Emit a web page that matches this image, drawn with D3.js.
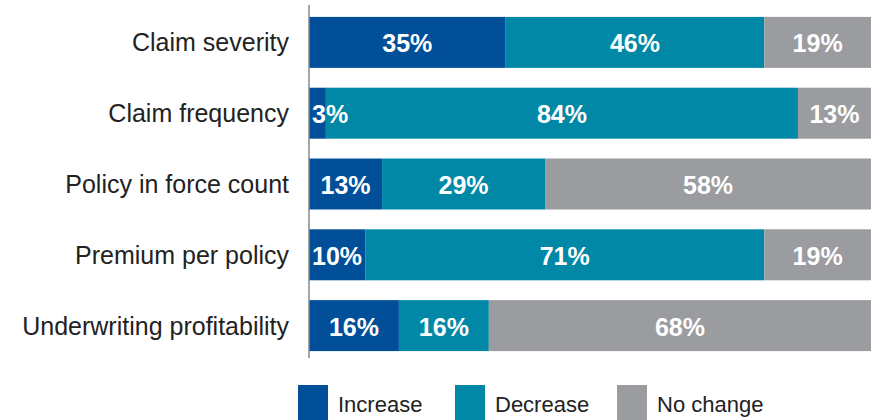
<!DOCTYPE html>
<html lang="en">
<head>
<meta charset="UTF-8">
<title>chart</title>
<script src="https://d3js.org/d3.v7.min.js"></script>
<style>
  body { margin: 0; background: #fff; }
  text { font-family: "Liberation Sans", Arial, sans-serif; }
</style>
</head>
<body>
<div class="canvas"></div>
<script>
  const categories = ['Claim severity', 'Claim frequency', 'Policy in force count', 'Premium per policy', 'Underwriting profitability'];
  const seriesNames = ['Increase', 'Decrease', 'No change'];
  const increase = [35, 3, 13, 10, 16];
  const decrease = [46, 84, 29, 71, 16];
  const noChange = [19, 13, 58, 19, 68];
  const colors = ['#004f98', '#0088a6', '#9b9ca0'];

  const width = 877, height = 420;
  const x0 = 309, x1 = 871;

  const rows = categories.map((c, i) => ({ cat: c, 'Increase': increase[i], 'Decrease': decrease[i], 'No change': noChange[i] }));
  const stacked = d3.stack().keys(seriesNames)(rows);

  const svg = d3.select('.canvas').append('svg')
    .attr('width', width).attr('height', height);

  const x = d3.scaleLinear().domain([0, 100]).range([x0, x1]);
  const y = d3.scaleBand().domain(categories).range([7, 361])
    .paddingInner(0.28).paddingOuter(0.14);
  const color = d3.scaleOrdinal().domain(seriesNames).range(colors);

  const layers = svg.selectAll('g.layer').data(stacked).enter()
    .append('g').attr('class', 'layer').attr('fill', d => color(d.key));

  layers.selectAll('rect').data(d => d).enter().append('rect')
    .attr('x', d => x(d[0]))
    .attr('y', d => y(d.data.cat))
    .attr('width', d => x(d[1]) - x(d[0]))
    .attr('height', y.bandwidth());

  // value labels, drawn after all bars so narrow ones can overflow
  const labels = stacked.flatMap(s => s.map(d => d));
  svg.append('g').selectAll('text').data(labels).enter().append('text')
    .attr('x', d => {
      const w = x(d[1]) - x(d[0]);
      return w < 40 ? x(d[0]) + 3 : (x(d[0]) + x(d[1])) / 2;
    })
    .attr('text-anchor', d => (x(d[1]) - x(d[0])) < 40 ? 'start' : 'middle')
    .attr('y', d => y(d.data.cat) + y.bandwidth() / 2 + 10)
    .attr('fill', '#fff')
    .attr('font-weight', 'bold')
    .attr('font-size', '25px')
    .text(d => (d[1] - d[0]) + '%');

  // category axis
  const yAxis = d3.axisLeft(y).tickSize(0).tickPadding(20);
  const yAxisG = svg.append('g').attr('transform', `translate(${x0}, 0)`).call(yAxis);
  yAxisG.select('.domain').remove();
  yAxisG.selectAll('text')
    .attr('font-size', '25px')
    .attr('font-family', '"Liberation Sans", Arial, sans-serif')
    .attr('fill', '#222')
    .attr('dy', '0.36em');

  svg.append('line')
    .attr('x1', x0).attr('x2', x0)
    .attr('y1', 5).attr('y2', 358)
    .attr('stroke', '#888').attr('stroke-width', 1.5);

  // legend
  const legendX = [298, 455, 617];
  const legend = svg.selectAll('g.legend').data(seriesNames).enter()
    .append('g').attr('class', 'legend')
    .attr('transform', (d, i) => `translate(${legendX[i]}, 385)`);
  legend.append('rect').attr('width', 30).attr('height', 35).attr('fill', d => color(d));
  legend.append('text').attr('x', 40).attr('y', 27)
    .attr('font-size', '22px').attr('fill', '#222').text(d => d);
</script>
</body>
</html>
